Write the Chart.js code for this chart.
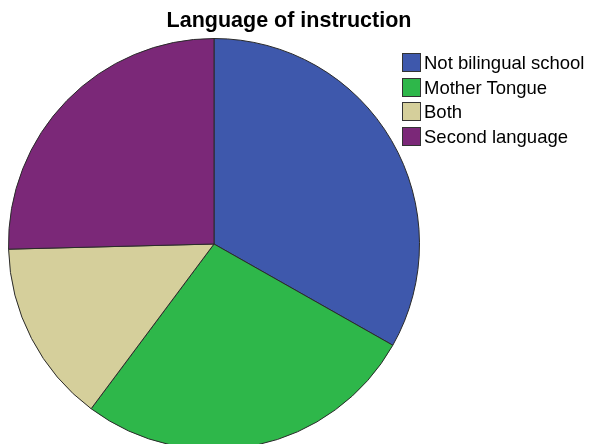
<!DOCTYPE html>
<html>
<head>
<meta charset="utf-8">
<script src="https://cdn.jsdelivr.net/npm/chart.js@4"></script>
<style>
  body { margin: 0; background: #fff; }
  #wrap { position: relative; width: 590px; height: 444px; overflow: hidden; }
  #chart { position: absolute; left: 0; top: 0; }
  #title { position: absolute; left: 0; top: 8px; width: 578px; text-align: center;
           font: bold 21.5px "Liberation Sans", Arial, sans-serif; color: #000; }
  #legend { position: absolute; left: 402px; top: 53px; font: 18.5px "Liberation Sans", Arial, sans-serif; color: #000; }
  .item { height: 24.5px; display: flex; align-items: flex-start; }
  .box { width: 17px; height: 17px; border: 1px solid #333; margin-right: 3px; }
  .lbl { line-height: 19px; }
</style>
</head>
<body>
<div id="wrap">
  <canvas id="chart" width="590" height="470"></canvas>
  <div id="title">Language of instruction</div>
  <div id="legend"></div>
</div>
<script>
var labels = ['Not bilingual school', 'Mother Tongue', 'Both', 'Second language']
var values = [33.2, 27.0, 14.4, 25.4]
var colors = ['#3e58ac', '#2eb74a', '#d5cf9b', '#7b2878']

var legend = document.getElementById('legend')
labels.forEach(function (l, i) {
    var row = document.createElement('div')
    row.className = 'item'
    row.innerHTML = '<div class="box" style="background:' + colors[i] + '"></div><div class="lbl">' + l + '</div>'
    legend.appendChild(row)
})

var chart = new Chart(
    document.getElementById('chart'),
    {
        type: 'pie',
        data: {
            labels: labels,
            datasets: [
                {
                    data: values,
                    backgroundColor: colors,
                    borderColor: '#2a2a2a',
                    borderWidth: 1,
                }
            ]
        },
        options: {
            responsive: false,
            animation: false,
            layout: {
                padding: { left: 8, right: 170, top: 38, bottom: 20 }
            },
            plugins: {
                legend: { display: false },
                tooltip: { enabled: false },
                title: { display: false }
            }
        }
    }
);
</script>
</body>
</html>
